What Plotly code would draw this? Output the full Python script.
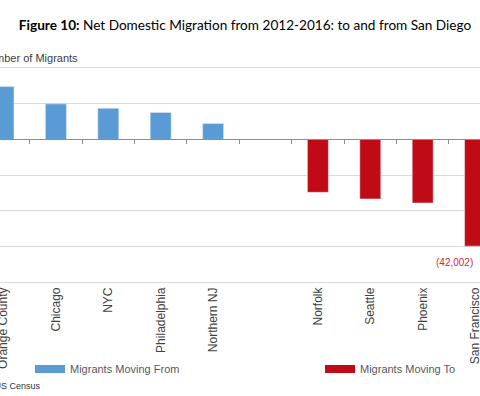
import plotly.graph_objects as go

# ---- data ----
from_cities = ["Orange County", "Chicago", "NYC", "Philadelphia", "Northern NJ"]
from_values = [20800, 14000, 12300, 10600, 6300]
to_cities = ["Norfolk", "Seattle", "Phoenix", "San Francisco"]
to_values = [-20800, -23400, -25000, -42002]
spacer = [" "]
categories = from_cities + spacer + to_cities
y_range = [-56000, 28000]
y_dtick = 14000
sf_label = "(42,002)"

W, H = 480, 396
BLUE = "#5B9BD5"
RED = "#C00A16"
GRID = "#D9D9D9"
AXIS = "#8C8C8C"
FONT = "Liberation Sans, Arial, sans-serif"

# plot area in pixels
px_top, px_bottom = 68.3, 281.7
y_dom = [1 - px_bottom / H, 1 - px_top / H]
zero_pos = y_dom[0] + (0 - y_range[0]) / (y_range[1] - y_range[0]) * (y_dom[1] - y_dom[0])

cat_w = 52.4
first_c = 3.5
x_range = [-first_c / cat_w, (W - first_c) / cat_w]

fig = go.Figure()
fig.add_trace(go.Bar(x=from_cities, y=from_values, marker_color=BLUE, width=0.4,
                     showlegend=False, xaxis="x", yaxis="y"))
fig.add_trace(go.Bar(x=to_cities, y=to_values, marker_color=RED, width=0.4,
                     showlegend=False, xaxis="x", yaxis="y"))
# invisible trace holding the zero-line axis (ticks between categories)
fig.add_trace(go.Scatter(x=categories, y=[0] * len(categories), mode="markers",
                         marker=dict(opacity=0), hoverinfo="skip", showlegend=False,
                         xaxis="x2", yaxis="y"))
# legend entries
fig.add_trace(go.Scatter(x=[None], y=[None], mode="lines", name="Migrants Moving From",
                         line=dict(color=BLUE, width=8), legend="legend"))
fig.add_trace(go.Scatter(x=[None], y=[None], mode="lines", name="Migrants Moving To",
                         line=dict(color=RED, width=8), legend="legend2"))

cat_axis = dict(type="category", categoryorder="array", categoryarray=categories,
                range=x_range, domain=[0, 1], showgrid=False, zeroline=False)

fig.update_layout(
    width=W, height=H, autosize=False,
    margin=dict(l=0, r=0, t=0, b=0),
    paper_bgcolor="white", plot_bgcolor="white",
    barmode="overlay",
    xaxis=dict(**cat_axis, anchor="y", side="bottom", showline=True, linecolor=GRID,
               linewidth=1, mirror=True, ticks="", tickangle=-90,
               tickfont=dict(family=FONT, size=12, color="#404040"), automargin=False),
    xaxis2=dict(**cat_axis, overlaying="x", anchor="free", position=zero_pos,
                side="bottom", showline=True, linecolor=AXIS, linewidth=1,
                ticks="outside", tickson="boundaries", ticklen=4, tickcolor=AXIS,
                showticklabels=False),
    yaxis=dict(domain=y_dom, range=y_range, dtick=y_dtick, showgrid=True,
               gridcolor=GRID, gridwidth=1, zeroline=False, showticklabels=False,
               showline=False, automargin=False),
    legend=dict(orientation="h", x=30 / W, xanchor="left", y=1 - 369 / H,
                yanchor="middle", font=dict(family=FONT, size=11, color="#595959"),
                bgcolor="rgba(0,0,0,0)"),
    legend2=dict(orientation="h", x=320 / W, xanchor="left", y=1 - 369 / H,
                 yanchor="middle", font=dict(family=FONT, size=11, color="#595959"),
                 bgcolor="rgba(0,0,0,0)"),
    title=dict(text="<b>Figure 10:</b> Net Domestic Migration from 2012-2016: to and from San Diego",
               x=245 / W, xanchor="center", y=1 - 25 / H, yanchor="middle",
               font=dict(family="Lato, sans-serif", size=13.6, color="black")),
    showlegend=True,
)

fig.add_annotation(x=to_cities[-1], y=to_values[-1], xref="x", yref="y", text=sf_label,
                   showarrow=False, xanchor="right", yanchor="top", xshift=0, yshift=-9,
                   font=dict(family=FONT, size=10, color="#D42A36"))
fig.add_annotation(x=80 / W, y=1 - 57.5 / H, xref="paper", yref="paper",
                   text="Number of Migrants", showarrow=False, xanchor="right",
                   yanchor="middle", font=dict(family=FONT, size=11, color="#404040"))
fig.add_annotation(x=43 / W, y=1 - 386 / H, xref="paper", yref="paper",
                   text="Source: US Census", showarrow=False, xanchor="right",
                   yanchor="middle", font=dict(family=FONT, size=9, color="#333333"))

fig.write_html("out.html", config={"displayModeBar": False},
               post_script="document.body.style.margin='0';")
